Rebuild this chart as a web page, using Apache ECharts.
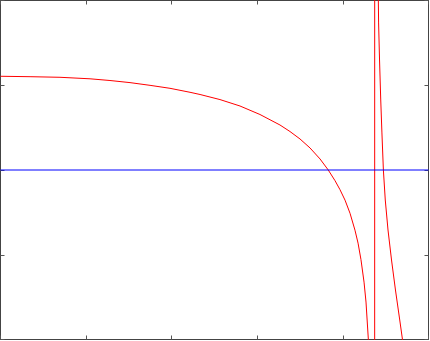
<!DOCTYPE html>
<html>
<head>
<meta charset="utf-8">
<style>
  html, body { margin: 0; padding: 0; background: #ffffff; }
  #chart { width: 430px; height: 341px; }
</style>
<script src="https://cdn.jsdelivr.net/npm/echarts@6/dist/echarts.min.js"></script>
</head>
<body>
<div id="chart"></div>
<script>
// Red curve: slowly falling branch that dives to -inf near x = 4.37,
// jumps across the pole, then a second falling branch on the right.
const curveX = [
  0.000, 0.345, 0.695, 1.046, 1.279, 1.513, 1.747, 1.980, 2.214, 2.331,
  2.564, 2.798, 3.031, 3.265, 3.382, 3.499, 3.616, 3.733, 3.829, 3.908,
  3.966, 4.025, 4.083, 4.141, 4.177, 4.211, 4.247, 4.270, 4.297, 4.317,
  4.340, 4.369, 4.3735,
  4.405, 4.414, 4.417, 4.428, 4.442, 4.456, 4.473, 4.495, 4.527, 4.568,
  4.614, 4.664, 4.695, 4.722
];
const curveY = [
  1.106, 1.101, 1.094, 1.076, 1.056, 1.031, 0.999, 0.964, 0.917, 0.891,
  0.831, 0.755, 0.655, 0.531, 0.454, 0.366, 0.260, 0.130, 0.000, -0.126,
  -0.232, -0.356, -0.510, -0.710, -0.863, -1.057, -1.323, -1.558, -1.994, -2.600,
  -3.800, -30.0, 30.0,
  4.000, 2.006, 1.735, 1.298, 0.826, 0.437, 0.000, -0.354, -0.708, -1.062,
  -1.416, -1.770, -1.994, -2.180
];

// Blue horizontal reference line at y = 0
const lineX = [0, 5];
const lineY = [0, 0];

// Axis limits and tick spacing
const xMin = 0, xMax = 5, xStep = 1;
const yMin = -2, yMax = 2, yStep = 1;

const pairs = (xs, ys) => xs.map((x, i) => [x, ys[i]]);

const frameColor = '#444444';
const tickStyle = { show: true, inside: true, length: 4, lineStyle: { color: '#555555', width: 1 } };

function xAxisAt(position) {
  return {
    type: 'value', position: position, min: xMin, max: xMax, interval: xStep,
    axisLine: { show: true, onZero: false, lineStyle: { color: frameColor, width: 1 } },
    axisTick: tickStyle, axisLabel: { show: false }, splitLine: { show: false }
  };
}
function yAxisAt(position) {
  return {
    type: 'value', position: position, min: yMin, max: yMax, interval: yStep,
    axisLine: { show: true, onZero: false, lineStyle: { color: frameColor, width: 1 } },
    axisTick: tickStyle, axisLabel: { show: false }, splitLine: { show: false }
  };
}

const chart = echarts.init(document.getElementById('chart'), null, { renderer: 'canvas' });
chart.setOption({
  animation: false,
  backgroundColor: '#ffffff',
  grid: { left: 0.5, top: 0.5, width: 428, height: 339, containLabel: false },
  xAxis: [xAxisAt('bottom'), xAxisAt('top')],
  yAxis: [yAxisAt('left'), yAxisAt('right')],
  series: [
    {
      type: 'line', xAxisIndex: 0, yAxisIndex: 0,
      data: pairs(curveX, curveY),
      showSymbol: false, clip: true, smooth: false,
      lineStyle: { color: '#ff0000', width: 1 }
    },
    {
      type: 'line', xAxisIndex: 0, yAxisIndex: 0,
      data: pairs(lineX, lineY),
      showSymbol: false, clip: true,
      lineStyle: { color: '#0000ff', width: 1 }
    }
  ]
});
</script>
</body>
</html>
